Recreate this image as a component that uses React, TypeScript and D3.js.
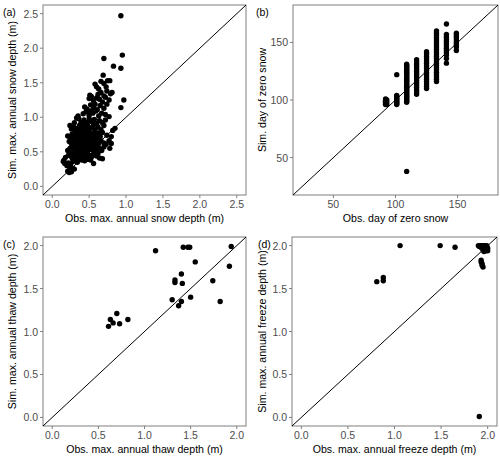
import React from 'react';
import * as d3 from 'd3';

type Pt = [number, number];

// (a) max annual snow depth, obs vs sim (m)
const snowDepth: Pt[] = [
  [0.21, 0.22], [0.23, 0.2], [0.26, 0.21], [0.3, 0.25], [0.28, 0.26], [0.24, 0.27],
  [0.15, 0.36], [0.17, 0.33], [0.16, 0.38], [0.2, 0.3], [0.22, 0.34], [0.25, 0.32], [0.28, 0.36], [0.31, 0.38],
  [0.34, 0.35], [0.36, 0.39], [0.4, 0.38], [0.44, 0.37], [0.48, 0.39], [0.56, 0.33], [0.52, 0.38],
  [0.18, 0.42], [0.22, 0.45], [0.25, 0.44], [0.27, 0.41], [0.29, 0.47], [0.32, 0.43], [0.34, 0.46], [0.37, 0.42],
  [0.39, 0.48], [0.41, 0.44], [0.43, 0.41], [0.45, 0.47], [0.47, 0.43], [0.5, 0.45], [0.53, 0.42], [0.56, 0.47],
  [0.6, 0.44], [0.64, 0.41], [0.68, 0.4], [0.62, 0.48], [0.24, 0.49],
  [0.21, 0.52], [0.24, 0.55], [0.27, 0.58], [0.3, 0.53], [0.32, 0.57], [0.35, 0.51], [0.37, 0.55], [0.39, 0.59],
  [0.42, 0.52], [0.44, 0.56], [0.46, 0.58], [0.48, 0.51], [0.5, 0.55], [0.52, 0.59], [0.54, 0.53], [0.57, 0.56],
  [0.59, 0.52], [0.61, 0.58], [0.64, 0.55], [0.67, 0.52], [0.7, 0.57], [0.78, 0.55], [0.33, 0.6], [0.41, 0.57],
  [0.23, 0.65], [0.26, 0.62], [0.28, 0.68], [0.31, 0.64], [0.33, 0.69], [0.36, 0.61], [0.38, 0.66], [0.4, 0.63],
  [0.42, 0.68], [0.44, 0.62], [0.46, 0.66], [0.48, 0.69], [0.5, 0.61], [0.52, 0.65], [0.54, 0.68], [0.56, 0.62],
  [0.58, 0.66], [0.6, 0.69], [0.63, 0.62], [0.66, 0.66], [0.7, 0.63], [0.73, 0.61], [0.8, 0.62], [0.77, 0.66],
  [0.35, 0.67], [0.47, 0.64],
  [0.21, 0.73], [0.24, 0.71], [0.27, 0.76], [0.3, 0.72], [0.32, 0.78], [0.34, 0.74], [0.37, 0.71], [0.39, 0.77],
  [0.41, 0.73], [0.43, 0.79], [0.45, 0.71], [0.47, 0.75], [0.49, 0.78], [0.51, 0.72], [0.53, 0.76], [0.55, 0.71],
  [0.57, 0.78], [0.59, 0.74], [0.62, 0.77], [0.65, 0.72], [0.68, 0.78], [0.74, 0.74], [0.8, 0.72], [0.36, 0.79],
  [0.44, 0.75],
  [0.24, 0.88], [0.26, 0.83], [0.29, 0.86], [0.31, 0.81], [0.34, 0.84], [0.37, 0.88], [0.4, 0.82], [0.42, 0.86],
  [0.45, 0.83], [0.48, 0.88], [0.5, 0.81], [0.53, 0.85], [0.56, 0.89], [0.58, 0.82], [0.62, 0.86], [0.66, 0.82],
  [0.7, 0.88], [0.82, 0.81], [0.85, 0.84], [0.46, 0.86],
  [0.3, 0.92], [0.33, 0.99], [0.36, 0.98], [0.39, 0.93], [0.43, 0.96], [0.47, 0.92], [0.5, 0.98], [0.53, 0.94],
  [0.57, 0.97], [0.6, 0.91], [0.64, 0.95], [0.68, 0.92], [0.72, 0.96], [0.41, 0.91],
  [0.35, 1.02], [0.42, 1.05], [0.46, 1.08], [0.5, 1.03], [0.55, 1.06], [0.59, 1.09], [0.63, 1.02], [0.67, 1.06],
  [0.72, 1.04], [0.77, 1.01], [0.52, 1.09],
  [0.44, 1.15], [0.47, 1.12], [0.52, 1.18], [0.56, 1.14], [0.61, 1.11], [0.65, 1.17], [0.7, 1.13], [0.74, 1.19],
  [0.58, 1.19],
  [0.5, 1.27], [0.53, 1.3], [0.56, 1.24], [0.6, 1.28], [0.64, 1.26], [0.68, 1.22], [0.72, 1.29], [0.77, 1.25],
  [0.51, 1.32], [0.62, 1.33], [0.66, 1.36], [0.7, 1.31], [0.74, 1.38], [0.79, 1.34], [0.81, 1.36],
  [0.58, 1.48], [0.6, 1.44], [0.63, 1.41], [0.66, 1.52], [0.7, 1.49], [0.73, 1.44], [0.75, 1.53], [0.69, 1.61],
  [0.78, 1.53],
  [0.7, 1.85], [0.83, 1.74], [0.93, 1.71], [0.95, 1.9], [0.93, 2.47], [0.97, 1.25], [0.93, 1.14],
];

// (b) day of zero snow: observed day columns and simulated days in each
const zeroSnowObs = [92, 93, 101, 109, 117, 125, 133, 141, 149];
const zeroSnowSim = [
  [96, 97, 98, 99, 100, 101],
  [96, 98, 100],
  [96, 97, 98, 99, 100, 101, 102, 103, 104, 122],
  [38, 98, 99, 100, 101, 102, 103, 104, 105, 106, 107, 108, 109, 110, 111, 112, 113, 114, 115, 116, 117, 118,
    119, 120, 121, 122, 123, 124, 125, 126, 127, 128, 129, 130, 131],
  [105, 107, 109, 111, 113, 115, 117, 119, 121, 123, 125, 127, 129, 131, 133, 135],
  [110, 112, 114, 116, 118, 120, 122, 124, 126, 128, 130, 132, 134, 136, 138, 140, 142],
  [116, 118, 120, 122, 124, 126, 128, 130, 132, 134, 136, 138, 140, 142, 144, 146, 148, 150, 152, 154, 156, 158, 160],
  [132, 136, 139, 141, 143, 145, 147, 149, 151, 153, 155, 157, 166],
  [143, 146, 148, 150, 152, 154, 156, 158],
];
const zeroSnow: Pt[] = zeroSnowObs.flatMap((o, i) => zeroSnowSim[i].map((s) => [o, s] as Pt));

// (c) max annual thaw depth (m)
const thawDepth: Pt[] = [
  [0.61, 1.06], [0.63, 1.14], [0.66, 1.1], [0.7, 1.21], [0.73, 1.09], [0.82, 1.14],
  [1.12, 1.94], [1.42, 1.98], [1.47, 1.98], [1.49, 1.98], [1.55, 1.81],
  [1.3, 1.37], [1.33, 1.6], [1.33, 1.57], [1.4, 1.67], [1.41, 1.56], [1.4, 1.35], [1.37, 1.3],
  [1.5, 1.4], [1.74, 1.59], [1.82, 1.35], [1.92, 1.76], [1.94, 1.99],
];

// (d) max annual freeze depth (m)
const freezeDepth: Pt[] = [
  [0.81, 1.58], [0.88, 1.63], [0.88, 1.59], [1.06, 2.0], [1.49, 2.0], [1.65, 1.98], [1.91, 0.01],
  [1.9, 2.0], [1.91, 1.99], [1.92, 2.0], [1.93, 1.98], [1.93, 2.0], [1.94, 1.99], [1.94, 1.97], [1.95, 2.0],
  [1.95, 1.98], [1.96, 1.99], [1.96, 1.96], [1.96, 2.0], [1.97, 1.98], [1.97, 1.95], [1.97, 2.0], [1.98, 1.99],
  [1.98, 1.96], [1.98, 1.94], [1.99, 1.98], [1.99, 2.0], [2.0, 1.97], [2.0, 1.94], [1.95, 1.95], [1.96, 1.93],
  [1.93, 1.83], [1.93, 1.81], [1.94, 1.79], [1.94, 1.77], [1.95, 1.75],
];

const depthTicks = [0, 0.5, 1, 1.5, 2];
const snowTicks = [0, 0.5, 1, 1.5, 2, 2.5];
const dayTicks = [50, 100, 150];

const FONT = '"Liberation Sans", Arial, sans-serif';
const GREY = '#4d4d4d';

type PanelProps = {
  data: Pt[];
  domain: [number, number];
  ticks: number[];
  fmt: (v: number) => string;
  box: { x0: number; x1: number; y0: number; y1: number };
  tag: string;
  tagX: number;
  xTitle: string;
  yTitle: string;
  yTitleX: number;
};

const Panel = ({ data, domain, ticks, fmt, box, tag, tagX, xTitle, yTitle, yTitleX }: PanelProps) => {
  const x = d3.scaleLinear().domain(domain).range([box.x0, box.x1]);
  const y = d3.scaleLinear().domain(domain).range([box.y1, box.y0]);
  const midX = (box.x0 + box.x1) / 2;
  const midY = (box.y0 + box.y1) / 2;
  return (
    <g>
      <rect x={box.x0} y={box.y0} width={box.x1 - box.x0} height={box.y1 - box.y0}
        fill="white" stroke="#7f7f7f" strokeWidth={1} />
      {/* 1:1 line */}
      <line x1={x(domain[0])} y1={y(domain[0])} x2={x(domain[1])} y2={y(domain[1])} stroke="black" strokeWidth={1} />
      {data.map((d, i) => (
        <circle key={i} cx={x(d[0])} cy={y(d[1])} r={2.7} fill="black" />
      ))}
      {ticks.map((t) => (
        <g key={'x' + t}>
          <line x1={x(t)} x2={x(t)} y1={box.y1} y2={box.y1 + 3} stroke="#7f7f7f" />
          <text x={x(t)} y={box.y1 + 13} textAnchor="middle" fontSize={10.5} fill={GREY}>{fmt(t)}</text>
        </g>
      ))}
      {ticks.map((t) => (
        <g key={'y' + t}>
          <line x1={box.x0 - 3} x2={box.x0} y1={y(t)} y2={y(t)} stroke="#7f7f7f" />
          <text x={box.x0 - 5} y={y(t) + 4} textAnchor="end" fontSize={10.5} fill={GREY}>{fmt(t)}</text>
        </g>
      ))}
      <text x={midX} y={box.y1 + 27} textAnchor="middle" fontSize={10.6} fill="black">{xTitle}</text>
      <text transform={`translate(${yTitleX},${midY}) rotate(-90)`} textAnchor="middle" fontSize={10.6} fill="black">
        {yTitle}
      </text>
      <text x={tagX} y={box.y0 + 11} fontSize={10.5} fill="black">{tag}</text>
    </g>
  );
};

export default function App() {
  const f1 = d3.format('.1f');
  const f0 = d3.format('d');
  return (
    <svg width={500} height={461} style={{ position: 'absolute', left: 0, top: 0, fontFamily: FONT }}>
      <rect width={500} height={461} fill="white" />
      <Panel data={snowDepth} domain={[-0.125, 2.625]} ticks={snowTicks} fmt={f1}
        box={{ x0: 43, x1: 246, y0: 5, y1: 195 }} tag="(a)" tagX={3}
        xTitle="Obs. max. annual snow depth (m)" yTitle="Sim. max. annual snow depth (m)" yTitleX={16} />
      <Panel data={zeroSnow} domain={[17.5, 182.5]} ticks={dayTicks} fmt={f0}
        box={{ x0: 293, x1: 498, y0: 5, y1: 195 }} tag="(b)" tagX={256}
        xTitle="Obs. day of zero snow" yTitle="Sim. day of zero snow" yTitleX={266} />
      <Panel data={thawDepth} domain={[-0.1, 2.1]} ticks={depthTicks} fmt={f1}
        box={{ x0: 43, x1: 246, y0: 237, y1: 426 }} tag="(c)" tagX={3}
        xTitle="Obs. max. annual thaw depth (m)" yTitle="Sim. max. annual thaw depth (m)" yTitleX={16} />
      <Panel data={freezeDepth} domain={[-0.1, 2.1]} ticks={depthTicks} fmt={f1}
        box={{ x0: 292, x1: 497, y0: 237, y1: 426 }} tag="(d)" tagX={258}
        xTitle="Obs. max. annual freeze depth (m)" yTitle="Sim. max. annual freeze depth (m)" yTitleX={266} />
    </svg>
  );
}
